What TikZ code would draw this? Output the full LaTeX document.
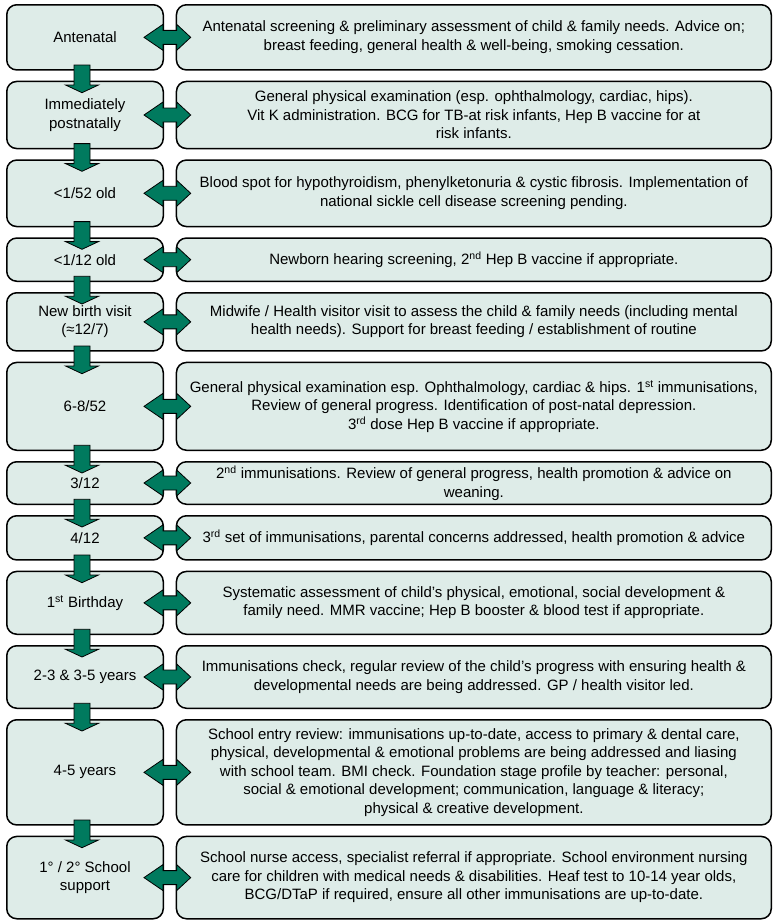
\documentclass[tikz,border=0pt]{standalone}
\usepackage{fontspec}
\setmainfont{Liberation Sans}
\usetikzlibrary{positioning,calc}
\definecolor{boxfill}{RGB}{222,236,232}
\definecolor{arrowgreen}{RGB}{0,122,94}

\begin{document}
\begin{tikzpicture}[x=1pt, y=1pt,
    node distance= 10pt and 11.7pt,
    agebox/.style={rectangle, rounded corners=10pt, draw=black, fill=boxfill, line width=1.5pt, minimum width=156.5pt, inner sep=2pt, align=center, font=\fontsize{15}{18.5}\selectfont},
    carebox/.style={agebox, minimum width=594.8pt},
    downarrow/.style={draw=black, fill=arrowgreen, line width=0.8pt,
      to path={let \p1=(\tikztostart), \p2=(\tikztotarget) in
        (\x1-11pt,\y1+5.7pt) -- (\x1+5pt,\y1+5.7pt) -- (\x1+5pt,\y2-4.3pt) -- (\x1+13.5pt,\y2-4.3pt)
        -- (\x1-3pt,\y2-12pt) -- (\x1-19.5pt,\y2-4.3pt) -- (\x1-11pt,\y2-4.3pt) -- cycle}},
    botharrow/.style={draw=black, fill=arrowgreen, line width=0.8pt,
      to path={let \p1=(\tikztostart), \p2=(\tikztotarget) in
        (\x1-20pt,\y1) -- (\x1-1pt,\y1+13pt) -- (\x1-1pt,\y1+7pt) -- (\x2+1pt,\y1+7pt) -- (\x2+1pt,\y1+13pt)
        -- (\x2+15pt,\y1) -- (\x2+1pt,\y1-13pt) -- (\x2+1pt,\y1-7pt) -- (\x1-1pt,\y1-7pt) -- (\x1-1pt,\y1-13pt) -- cycle}},
]
\useasboundingbox (0,0) rectangle (774,-921);

%Nodes
\node[agebox, minimum height=65.2pt, anchor=north west] (age1) at (6,-4) {Antenatal};
\node[agebox, minimum height=67.1pt] (age2) [below=of age1] {Immediately\\postnatally};
\node[agebox, minimum height=66.5pt] (age3) [below=of age2] {<1/52 old};
\node[agebox, minimum height=43.2pt] (age4) [below=of age3] {<1/12 old};
\node[agebox, minimum height=58.2pt] (age5) [below=of age4] {New birth visit\\(≈12/7)};
\node[agebox, minimum height=87.8pt] (age6) [below=of age5] {6-8/52};
\node[agebox, minimum height=42.5pt] (age7) [below=of age6] {3/12};
\node[agebox, minimum height=44.2pt] (age8) [below=of age7] {4/12};
\node[agebox, minimum height=62.8pt] (age9) [below=of age8] {1\textsuperscript{st} Birthday};
\node[agebox, minimum height=62.5pt] (age10) [below=of age9] {2-3 \& 3-5 years};
\node[agebox, minimum height=105.2pt] (age11) [below=of age10] {4-5 years};
\node[agebox, minimum height=82.3pt] (age12) [below=of age11] {1° / 2° School\\support};

\node[carebox, minimum height=65.2pt] (care1) [right=of age1] {Antenatal screening \& preliminary assessment of child \& family needs. Advice on;\\breast feeding, general health \& well-being, smoking cessation.};
\node[carebox, minimum height=67.1pt] (care2) [right=of age2] {General physical examination (esp. ophthalmology, cardiac, hips).\\Vit K administration. BCG for TB-at risk infants, Hep B vaccine for at\\risk infants.};
\node[carebox, minimum height=66.5pt] (care3) [right=of age3] {Blood spot for hypothyroidism, phenylketonuria \& cystic fibrosis. Implementation of\\national sickle cell disease screening pending.};
\node[carebox, minimum height=43.2pt] (care4) [right=of age4] {Newborn hearing screening, 2\textsuperscript{nd} Hep B vaccine if appropriate.};
\node[carebox, minimum height=58.2pt] (care5) [right=of age5] {Midwife / Health visitor visit to assess the child \& family needs (including mental\\health needs). Support for breast feeding / establishment of routine};
\node[carebox, minimum height=87.8pt] (care6) [right=of age6] {General physical examination esp. Ophthalmology, cardiac \& hips. 1\textsuperscript{st} immunisations,\\Review of general progress. Identification of post-natal depression.\\3\textsuperscript{rd} dose Hep B vaccine if appropriate.};
\node[carebox, minimum height=42.5pt] (care7) [right=of age7] {2\textsuperscript{nd} immunisations. Review of general progress, health promotion \& advice on\\weaning.};
\node[carebox, minimum height=44.2pt] (care8) [right=of age8] {3\textsuperscript{rd} set of immunisations, parental concerns addressed, health promotion \& advice};
\node[carebox, minimum height=62.8pt] (care9) [right=of age9] {Systematic assessment of child’s physical, emotional, social development \&\\family need. MMR vaccine; Hep B booster \& blood test if appropriate.};
\node[carebox, minimum height=62.5pt] (care10) [right=of age10] {Immunisations check, regular review of the child’s progress with ensuring health \&\\developmental needs are being addressed. GP / health visitor led.};
\node[carebox, minimum height=105.2pt] (care11) [right=of age11] {School entry review: immunisations up-to-date, access to primary \& dental care,\\physical, developmental \& emotional problems are being addressed and liasing\\with school team. BMI check. Foundation stage profile by teacher: personal,\\social \& emotional development; communication, language \& literacy;\\physical \& creative development.};
\node[carebox, minimum height=82.3pt] (care12) [right=of age12] {School nurse access, specialist referral if appropriate. School environment nursing\\care for children with medical needs \& disabilities. Heaf test to 10-14 year olds,\\BCG/DTaP if required, ensure all other immunisations are up-to-date.};

%Arrows down
\draw[downarrow] (age1.south) to (age2.north);
\draw[downarrow] (age2.south) to (age3.north);
\draw[downarrow] (age3.south) to (age4.north);
\draw[downarrow] (age4.south) to (age5.north);
\draw[downarrow] (age5.south) to (age6.north);
\draw[downarrow] (age6.south) to (age7.north);
\draw[downarrow] (age7.south) to (age8.north);
\draw[downarrow] (age8.south) to (age9.north);
\draw[downarrow] (age9.south) to (age10.north);
\draw[downarrow] (age10.south) to (age11.north);
\draw[downarrow] (age11.south) to (age12.north);

%Arrows across
\draw[botharrow] (age1.east) to (care1.west);
\draw[botharrow] (age2.east) to (care2.west);
\draw[botharrow] (age3.east) to (care3.west);
\draw[botharrow] (age4.east) to (care4.west);
\draw[botharrow] (age5.east) to (care5.west);
\draw[botharrow] (age6.east) to (care6.west);
\draw[botharrow] (age7.east) to (care7.west);
\draw[botharrow] (age8.east) to (care8.west);
\draw[botharrow] (age9.east) to (care9.west);
\draw[botharrow] (age10.east) to (care10.west);
\draw[botharrow] (age11.east) to (care11.west);
\draw[botharrow] (age12.east) to (care12.west);
\end{tikzpicture}
\end{document}
